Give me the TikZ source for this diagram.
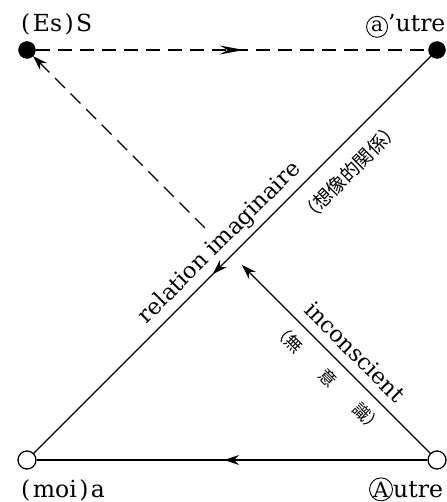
\documentclass[tikz,border=0pt]{standalone}
\usepackage{fontspec}
\setmainfont{DejaVu Serif}
\newfontfamily\cjk{Noto Sans CJK JP}
\usetikzlibrary{arrows.meta,decorations.markings,calc}
\tikzset{
  tipA/.tip={Stealth[length=15pt,width=10pt,inset=5pt]},
  tipT/.tip={Stealth[length=24pt,width=9pt,inset=8pt]},
}
\begin{document}
\begin{tikzpicture}[x=1pt,y=-1pt,
  dotf/.style={circle,fill=black,draw=black,minimum size=17pt,inner sep=0pt},
  doto/.style={circle,fill=white,draw=black,line width=1.3pt,minimum size=18pt,inner sep=0pt},
  conn/.style={line width=1.35pt},
  dsh/.style={conn,dash pattern=on 14pt off 8pt},
  lab/.style={font=\fontsize{22.5}{26}\selectfont,inner sep=0pt},
  clab/.style={font=\fontsize{23.5}{27}\selectfont,inner sep=0pt},
  cj/.style={font=\cjk\fontsize{19}{22}\selectfont,inner sep=0pt},
  cjs/.style={font=\cjk\fontsize{17}{20}\selectfont,inner sep=0pt},
  circ/.style={circle,draw,line width=0.9pt,inner sep=0pt,minimum size=21pt,font=\fontsize{20}{24}\selectfont},
  midarrow/.style 2 args={postaction={decorate},decoration={markings,mark=at position #1 with {\arrow{#2}}}},
]
\useasboundingbox (0,0) rectangle (446,502);

% points
\node[dotf] (S) at (27,50) {};
\node[dotf] (ap) at (437,50) {};
\node[doto] (mo) at (27,460) {};
\node[doto] (A) at (437,460) {};

% corner labels
\node[clab,anchor=base west] (lS) at (21,32) {(\hspace{2.5pt}Es\hspace{2.5pt})\hspace{2.5pt}S};
\node[clab,anchor=base west] (lap) at (388,32) {’utre};
\node[circ,anchor=base east] (cap) at (lap.base west) {a};
\node[clab,anchor=base west] (lmo) at (21,497) {(\hspace{2.5pt}moi\hspace{2.5pt})\hspace{2.5pt}a};
\node[clab,anchor=base west] (lA) at (393,497) {utre};
\node[circ,anchor=base east,minimum size=23pt,font=\fontsize{21}{24}\selectfont] (cA) at (lA.base west) {A};

% connectors
\draw[dsh,midarrow={0.53}{tipT}] (S) -- (ap);
\draw[conn,midarrow={0.549}{tipA}] (ap) -- (mo);
\draw[conn,midarrow={0.52}{tipA}] (A) -- (mo);
\coordinate (t1) at ($(A)!0.476!(S)$);
\coordinate (t2) at ($(A)!0.566!(S)$);
\draw[conn,-{tipA}] (A) -- (t1);
\draw[dsh,-{tipA}] (t2) -- (S);

% rotated labels
\node[lab,rotate=45] (ri) at (220,243) {relation imaginaire};
\node[cj,rotate=45] (rj) at (350,172) {（想像的関係）};
\node[lab,rotate=-45] (ic) at (355,352) {inconscient};
\node[cjs,rotate=-45] (ij) at (328,378) {（無\hspace{1.8em}意\hspace{1.8em}識）};
\end{tikzpicture}
\end{document}
